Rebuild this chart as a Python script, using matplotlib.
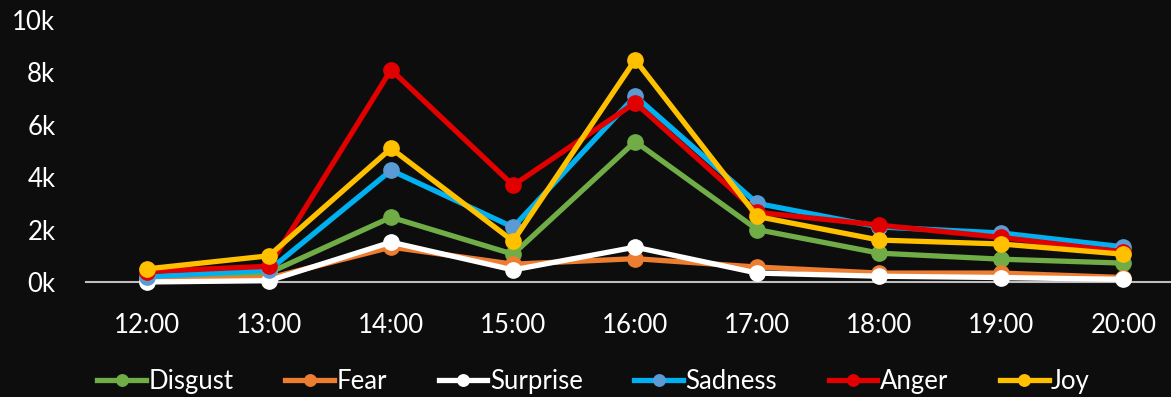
import matplotlib.pyplot as plt
from matplotlib.ticker import FuncFormatter

hours = ["12:00", "13:00", "14:00", "15:00", "16:00", "17:00", "18:00", "19:00", "20:00"]

disgust = [100, 350, 2470, 1060, 5360, 2000, 1100, 870, 720]
fear = [50, 150, 1330, 680, 890, 570, 340, 340, 170]
surprise = [0, 50, 1520, 460, 1330, 340, 220, 170, 100]
sadness = [200, 450, 4260, 2090, 7100, 3000, 2100, 1870, 1340]
anger = [400, 600, 8100, 3690, 6840, 2660, 2170, 1700, 1150]
joy = [500, 1000, 5100, 1560, 8480, 2500, 1600, 1450, 1060]

series = [
    ("Disgust", disgust, "#70AD47", "#70AD47"),
    ("Fear", fear, "#ED7D31", "#ED7D31"),
    ("Surprise", surprise, "#FFFFFF", "#FFFFFF"),
    ("Sadness", sadness, "#00B0F0", "#5B9BD5"),
    ("Anger", anger, "#E00000", "#E00000"),
    ("Joy", joy, "#FFC000", "#FFC000"),
]

bg = "#0D0D0D"
plt.rcParams["font.family"] = ["Lato", "DejaVu Sans"]

fig = plt.figure(figsize=(11.71, 3.97), dpi=100, facecolor=bg)
ax = fig.add_axes([0.0734, 0.2897, 0.9266, 0.66])
ax.set_facecolor(bg)

x = list(range(len(hours)))
for name, vals, lc, mc in series:
    ax.plot(x, vals, color=lc, lw=3.8, marker="o", markersize=11,
            markerfacecolor=mc, markeredgecolor=mc, label=name,
            solid_joinstyle="round", clip_on=False)

ax.set_xlim(-0.5, 8.39)
ax.set_ylim(0, 10000)
ax.set_yticks([0, 2000, 4000, 6000, 8000, 10000])
ax.yaxis.set_major_formatter(FuncFormatter(lambda v, p: f"{int(v/1000)}k"))
ax.set_xticks(x)
ax.set_xticklabels(hours)

for s in ["top", "right", "left"]:
    ax.spines[s].set_visible(False)
ax.spines["bottom"].set_color("#BFBFBF")
ax.spines["bottom"].set_linewidth(1.5)
ax.spines["bottom"].set_zorder(0)

ax.tick_params(axis="both", length=0, colors="white", labelsize=18.5)
ax.tick_params(axis="y", pad=22)
ax.tick_params(axis="x", pad=22)

leg = fig.legend(loc="center", bbox_to_anchor=(0.507, 0.04), ncol=6,
                 frameon=False, fontsize=18.5, handlelength=1.9,
                 handletextpad=0.1, columnspacing=2.0, labelcolor="white",
                 markerscale=0.75)

fig.savefig("out.png", dpi=100, facecolor=bg)
